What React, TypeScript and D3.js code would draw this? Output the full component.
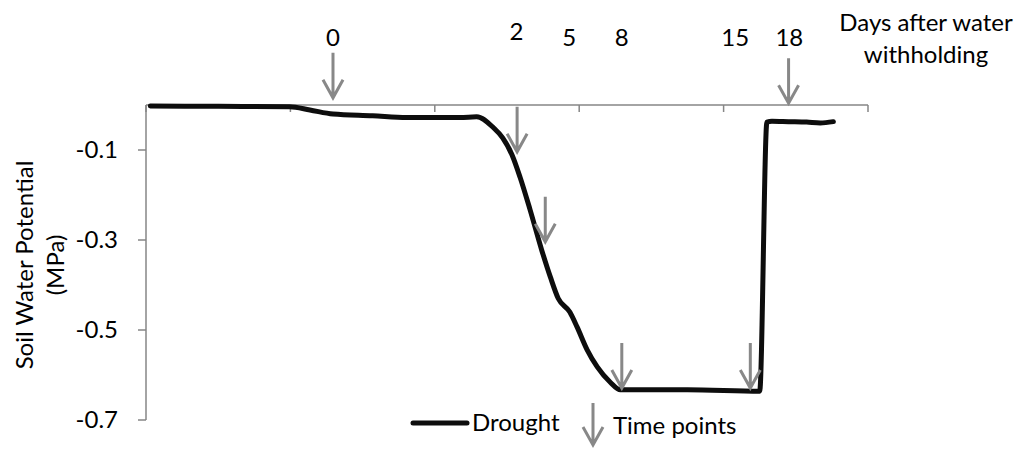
import React from "react";
import * as d3 from "d3";

// drought curve, x = sample position along the (unlabelled) category axis, 0..100
const sampleX = [0.6, 10, 19.9, 22.7, 25.9, 31.4, 36.1, 43.5, 45.8, 48.1, 49.4, 50.7, 51.8, 53.2, 54.8, 56, 57.1, 58.7, 59.7, 61.1, 62.5, 64.3, 65.7, 75, 85, 86, 86.7, 89, 91.5, 93.4, 95.2];
const drought = [-0.002, -0.003, -0.004, -0.011, -0.02, -0.024, -0.028, -0.028, -0.026, -0.05, -0.073, -0.111, -0.16, -0.233, -0.322, -0.382, -0.43, -0.46, -0.493, -0.544, -0.582, -0.616, -0.633, -0.633, -0.636, -0.038, -0.036, -0.037, -0.038, -0.04, -0.037];

// time point arrows
const arrowX = [25.9, 51.4, 55.3, 65.9, 83.7, 89];
const arrowTip = [0.016, -0.104, -0.304, -0.629, -0.629, 0.004];
const dayLabels = ["0", "2", "5", "8", "15", "18"];
const dayLabelX = [25.9, 51.3, 58.6, 65.9, 81.6, 89.1];
const dayLabelRaise = [0, 6, 0, 0, 0, 0];

const yTicks = [-0.1, -0.3, -0.5, -0.7];
const xTicks = [0, 20, 40, 60, 80, 100];

const W = 1027;
const H = 450;
const x = d3.scaleLinear().domain([0, 100]).range([146, 868]);
const y = d3.scaleLinear().domain([-0.7, 0]).range([420, 105]);

const axisColor = "#868686";
const arrowColor = "#888888";
const font = "Lato, 'Open Sans', sans-serif";

const line = d3
	.line<number>()
	.x((_, i) => x(sampleX[i]))
	.y((d) => y(d))
	.curve(d3.curveMonotoneX);

const Arrow = ({ cx, tip, len = 45 }: { cx: number; tip: number; len?: number }) => (
	<path
		d={`M${cx},${tip - len}L${cx},${tip}M${cx - 10},${tip - 18}L${cx},${tip}L${cx + 10},${tip - 18}`}
		fill="none"
		stroke={arrowColor}
		strokeWidth={3}
	/>
);

export default function App() {
	return (
		<svg width={W} height={H} style={{ position: "absolute", left: 0, top: 0, background: "#fff" }}>
			<g fontFamily={font} fontSize={24} fill="#000">
				{/* axes */}
				<path
					d={`M${x(0)},${y(0)}L${x(100)},${y(0)}M${x(0)},${y(0)}L${x(0)},${y(-0.7)}`}
					fill="none"
					stroke={axisColor}
					strokeWidth={1.5}
				/>
				{xTicks.map((t) => (
					<line key={t} x1={x(t)} x2={x(t)} y1={y(0)} y2={y(0) + 7} stroke={axisColor} strokeWidth={1.5} />
				))}
				{yTicks.map((t) => (
					<g key={t}>
						<line x1={x(0) - 8} x2={x(0)} y1={y(t)} y2={y(t)} stroke={axisColor} strokeWidth={1.5} />
						<text x={118} y={y(t) + 8} textAnchor="end">
							{t.toFixed(1)}
						</text>
					</g>
				))}
				<text transform="translate(33,265) rotate(-90)" textAnchor="middle">
					Soil Water Potential
				</text>
				<text transform="translate(64,265) rotate(-90)" textAnchor="middle">
					(MPa)
				</text>

				{/* series */}
				<path d={line(drought) || ""} fill="none" stroke="#0d0d0d" strokeWidth={5} strokeLinejoin="round" strokeLinecap="round" />

				{/* time points */}
				{arrowX.map((a, i) => (
					<Arrow key={i} cx={x(a)} tip={y(arrowTip[i])} />
				))}
				{dayLabels.map((d, i) => (
					<text key={d} x={x(dayLabelX[i])} y={46 - dayLabelRaise[i]} textAnchor="middle">
						{d}
					</text>
				))}
				<text x={926} y={31} textAnchor="middle">
					Days after water
				</text>
				<text x={926} y={63} textAnchor="middle">
					withholding
				</text>

				{/* legend */}
				<line x1={413} x2={467} y1={423} y2={423} stroke="#0d0d0d" strokeWidth={5} strokeLinecap="round" />
				<text x={472} y={431}>Drought</text>
				<Arrow cx={593} tip={445} len={42} />
				<text x={613} y={434}>Time points</text>
			</g>
		</svg>
	);
}
